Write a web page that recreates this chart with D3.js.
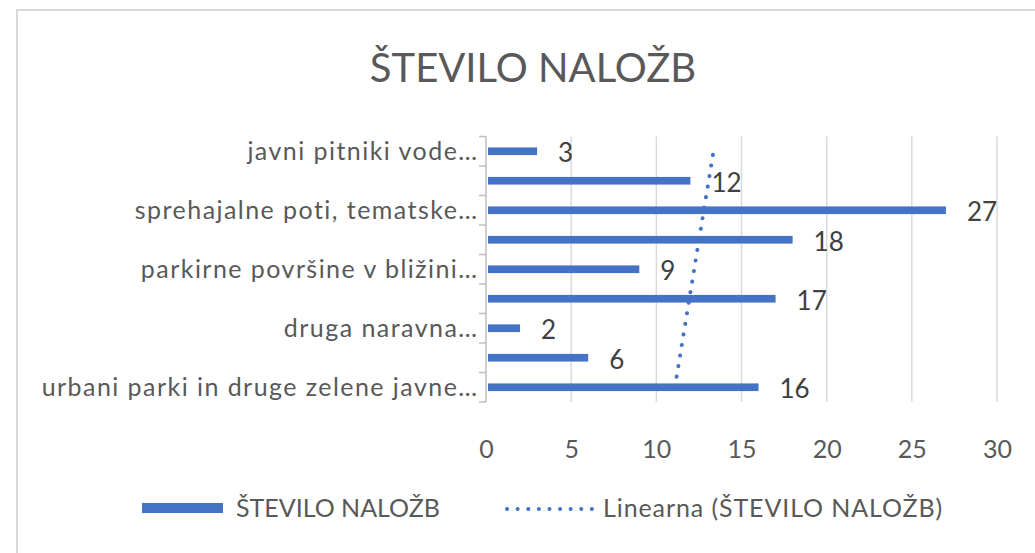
<!DOCTYPE html>
<html>
<head>
<meta charset="utf-8">
<script src="https://cdn.jsdelivr.net/npm/d3@7"></script>
<style>
  body { margin: 0; background: #fff; }
  text { font-family: Lato, "Open Sans", sans-serif; }
</style>
</head>
<body>
<script>
const sirina = 1035
const visina = 553

// kategorije od zgoraj navzdol (skrite oznake so prazne)
const kategorije = ['javni pitniki vode…', '', 'sprehajalne poti, tematske…', '',
  'parkirne površine v bližini…', '', 'druga naravna…', '', 'urbani parki in druge zelene javne…']
const vrednosti = [3, 12, 27, 18, 9, 17, 2, 6, 16]
const xTicks = [0, 5, 10, 15, 20, 25, 30]
const naslov = 'ŠTEVILO NALOŽB'
const legenda = ['ŠTEVILO NALOŽB', 'Linearna (ŠTEVILO NALOŽB)']

const modra = '#4472c4'
const sivaTekst = '#595959'

var svg = d3.select('body').append('svg').attr('width', sirina).attr('height', visina)

// okvir grafikona
svg.append('rect')
  .attr('x', 17).attr('y', 10)
  .attr('width', 1100).attr('height', 700)
  .attr('fill', '#fff')
  .attr('stroke', '#d9d9d9').attr('stroke-width', 2)

svg.append('text')
  .attr('x', 533).attr('y', 82)
  .attr('text-anchor', 'middle')
  .style('font-size', '40px')
  .attr('fill', sivaTekst)
  .text(naslov)

var xEscala = d3.scaleLinear().domain([0, 30]).range([486, 997])
var yEscala = d3.scaleBand().domain(d3.range(kategorije.length)).range([136.5, 402]).paddingInner(0.74).paddingOuter(0.37)

// mreža
svg.append('g')
  .selectAll('line')
  .data(xTicks.slice(1))
  .join('line')
  .attr('x1', d => xEscala(d)).attr('x2', d => xEscala(d))
  .attr('y1', 136.5).attr('y2', 402)
  .attr('stroke', '#d9d9d9').attr('stroke-width', 1.5)

// os x (samo oznake)
var eixoX = svg.append('g')
  .attr('transform', 'translate(0,402)')
  .call(d3.axisBottom(xEscala).tickValues(xTicks).tickSize(0).tickPadding(38))
eixoX.select('.domain').remove()
eixoX.selectAll('text').style('font-size', '25px').attr('fill', sivaTekst).style('font-family', 'Lato')

// os kategorij
var pas = (402 - 136.5) / kategorije.length
var osY = svg.append('g')
osY.append('line')
  .attr('x1', 486).attr('x2', 486).attr('y1', 136.5).attr('y2', 402)
  .attr('stroke', '#bfbfbf').attr('stroke-width', 1.5)
osY.selectAll('.tick')
  .data(d3.range(kategorije.length + 1))
  .join('line')
  .attr('class', 'tick')
  .attr('x1', 479).attr('x2', 486)
  .attr('y1', d => 136.5 + d * pas).attr('y2', d => 136.5 + d * pas)
  .attr('stroke', '#bfbfbf').attr('stroke-width', 1.5)
osY.selectAll('text')
  .data(kategorije)
  .join('text')
  .attr('x', 478.5)
  .attr('y', (d, i) => yEscala(i) + yEscala.bandwidth() / 2)
  .attr('dy', '0.35em')
  .attr('text-anchor', 'end')
  .style('font-size', '25px')
  .style('letter-spacing', '1.45px')
  .attr('fill', sivaTekst)
  .text(d => d)

// stolpci
svg.append('g')
  .selectAll('rect')
  .data(vrednosti)
  .join('rect')
  .attr('x', xEscala(0) + 2)
  .attr('y', (d, i) => yEscala(i))
  .attr('width', d => xEscala(d) - xEscala(0) - 2)
  .attr('height', yEscala.bandwidth())
  .attr('fill', modra)

svg.append('g')
  .selectAll('text')
  .data(vrednosti)
  .join('text')
  .attr('x', d => xEscala(d) + 21)
  .attr('y', (d, i) => yEscala(i) + yEscala.bandwidth() / 2 + 2)
  .attr('dy', '0.35em')
  .style('font-size', '26px')
  .attr('fill', '#404040')
  .text(d => d)

// linearni trend (indeks od spodaj navzgor, kot v Excelu)
var n = vrednosti.length
var tocke = vrednosti.map((v, i) => ({xi: n - i, v: v, i: i}))
var mx = d3.mean(tocke, d => d.xi)
var my = d3.mean(tocke, d => d.v)
var naklon = d3.sum(tocke, d => (d.xi - mx) * (d.v - my)) / d3.sum(tocke, d => (d.xi - mx) * (d.xi - mx))
var trend = [n - 1, 0].map(i => ({i: i, v: my + naklon * ((n - i) - mx)}))

var linija = d3.line()
  .x(d => xEscala(d.v))
  .y(d => yEscala(d.i) + yEscala.bandwidth() / 2)

svg.append('path')
  .attr('d', linija(trend))
  .attr('fill', 'none')
  .attr('stroke', modra)
  .attr('stroke-width', 4)
  .attr('stroke-linecap', 'round')
  .attr('stroke-dasharray', '0.1 10.6')

// legenda
svg.append('rect')
  .attr('x', 142).attr('y', 503)
  .attr('width', 81).attr('height', 10)
  .attr('fill', modra)
svg.append('text')
  .attr('x', 236).attr('y', 508).attr('dy', '0.35em')
  .style('font-size', '25px')
  .attr('fill', sivaTekst)
  .text(legenda[0])
svg.append('line')
  .attr('x1', 507).attr('x2', 592).attr('y1', 509).attr('y2', 509)
  .attr('stroke', modra)
  .attr('stroke-width', 4)
  .attr('stroke-linecap', 'round')
  .attr('stroke-dasharray', '0.1 10.5')
svg.append('text')
  .attr('x', 603).attr('y', 508).attr('dy', '0.35em')
  .style('font-size', '25px')
  .style('letter-spacing', '0.9px')
  .attr('fill', sivaTekst)
  .text(legenda[1])
</script>
</body>
</html>
